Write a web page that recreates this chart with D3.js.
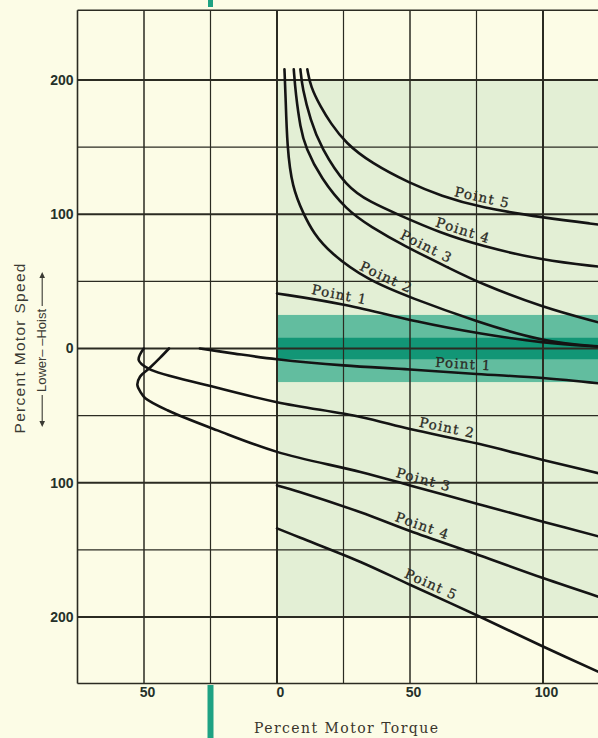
<!DOCTYPE html>
<html>
<head>
<meta charset="utf-8">
<script src="https://cdn.jsdelivr.net/npm/d3@7"></script>
<style>
  html, body { margin: 0; padding: 0; background: #fcfce6; }
  svg { display: block; }
</style>
</head>
<body>
<svg id="chart" width="598" height="738"></svg>
<script>
// ---- axis ticks (percent); negative values are shown as magnitudes ----
const torqueTicks = [-50, 0, 50, 100];
const speedTicks = [200, 100, 0, -100, -200];
const torqueGrid = [-50, -25, 0, 25, 50, 75, 100];
const speedGrid = [200, 150, 100, 50, 0, -50, -100, -150, -200];

// ---- speed-torque curves, [torque %, speed %] ----
// hoisting side (positive speed)
const hoistPoint1 = [[0, 41], [25, 33.5], [54, 19], [76.5, 11], [100, 4], [121, 1.5]];
const hoistPoint2 = [[2.8, 208], [3.2, 190], [3.8, 150], [5.7, 120], [10, 100], [13.7, 86], [20, 71], [34, 51], [50, 38], [75, 20], [100, 5], [121, 1.5]];
const hoistPoint3 = [[6.3, 208], [7, 190], [8.8, 164], [10.7, 150], [16.4, 127], [26.2, 103], [35.2, 90.8], [47.6, 76.6], [65.2, 59.5], [76.5, 48.4], [100, 30.5], [121, 19.4]];
const hoistPoint4 = [[8.8, 208], [9.5, 194], [12.6, 170], [16.4, 150], [26.1, 120], [35.2, 109], [45.2, 100], [61.5, 86], [76.5, 76.6], [100, 65.5], [121, 61]];
const hoistPoint5 = [[11.4, 208], [12.6, 195], [16.4, 180], [20.1, 168], [25.8, 153], [35.2, 138.4], [50.2, 122.8], [61.5, 113.8], [76.5, 104.9], [100, 97.5], [121, 92.3]];
// lowering side (negative speed)
const lowerPoint1 = [[-29, 0], [-16, -3.8], [0, -8], [25, -12.6], [50, -15.6], [75, -19], [100, -22], [121, -26]];
const lowerPoint2 = [[-50.1, 0], [-52, -8.5], [-48.3, -15], [-25, -28], [0, -40], [31.4, -51], [50, -60], [75.8, -71], [100, -83], [121, -93]];
const lowerPoint3 = [[-40.6, 0], [-44, -7], [-47.6, -14], [-51.5, -21], [-52.5, -27], [-51.3, -32.5], [-49.5, -37], [-41.2, -46], [-22.4, -61], [0, -77], [31.4, -92], [50, -102], [75.8, -116], [100, -129], [121, -140]];
const lowerPoint4 = [[0, -102], [8.8, -107], [31.4, -122], [50, -136], [76, -154], [100, -171], [121, -185]];
const lowerPoint5 = [[0, -134], [8.8, -141], [31.4, -159], [50, -176], [76.5, -200], [100, -222], [121, -241]];

const curveNames = ["Point 1", "Point 2", "Point 3", "Point 4", "Point 5"];
const hoistCurves = [hoistPoint1, hoistPoint2, hoistPoint3, hoistPoint4, hoistPoint5];
const lowerCurves = [lowerPoint1, lowerPoint2, lowerPoint3, lowerPoint4, lowerPoint5];
// torque at which each curve's name is written
const hoistLabelTorque = [23, 39.7, 54.7, 69, 76.5];
const lowerLabelTorque = [70, 63.3, 54.3, 53.6, 56.6];

// operating zones
const normalZone = [200, -200];   // speed range of the shaded block
const outerBand = [25, -25];
const innerBand = [8, -8];
const markTorque = -25;

// ---- scales ----
const svg = d3.select("#chart");
const x = d3.scaleLinear().domain([-50, 100]).range([144, 543]);
const y = d3.scaleLinear().domain([200, -200]).range([80, 617]);
const X0 = x(-75), X1 = x(121), Ytop = y(252), Ybot = y(-249.5);

// background zones
svg.append("rect").attr("x", x(0)).attr("y", y(normalZone[0]))
  .attr("width", X1 - x(0)).attr("height", y(normalZone[1]) - y(normalZone[0]))
  .attr("fill", "#e3efd5");
svg.append("rect").attr("x", x(0)).attr("y", y(outerBand[0]))
  .attr("width", X1 - x(0)).attr("height", y(outerBand[1]) - y(outerBand[0]))
  .attr("fill", "#62bd9f");
svg.append("rect").attr("x", x(0)).attr("y", y(innerBand[0]))
  .attr("width", X1 - x(0)).attr("height", y(innerBand[1]) - y(innerBand[0]))
  .attr("fill", "#129676");

// grid
const grid = svg.append("g").attr("stroke", "#2b2b22").attr("fill", "none");
grid.selectAll("line.v").data(torqueGrid).join("line")
  .attr("x1", d => x(d)).attr("x2", d => x(d)).attr("y1", Ytop).attr("y2", Ybot)
  .attr("stroke-width", d => (d === 0 || d === 100) ? 2 : (d % 50 === 0 ? 1.5 : 1.2));
grid.selectAll("line.h").data(speedGrid).join("line")
  .attr("x1", X0).attr("x2", X1).attr("y1", d => y(d)).attr("y2", d => y(d))
  .attr("stroke-width", d => d % 100 === 0 ? 2.2 : 1.3);
// frame
grid.append("line").attr("x1", X0).attr("x2", X0).attr("y1", Ytop).attr("y2", Ybot).attr("stroke-width", 1.6);
grid.append("line").attr("x1", X0).attr("x2", X1).attr("y1", Ytop).attr("y2", Ytop).attr("stroke-width", 1.6);
grid.append("line").attr("x1", X0).attr("x2", X1).attr("y1", Ybot).attr("y2", Ybot).attr("stroke-width", 1.6);

// curves: smooth B-spline for the hoisting family, Catmull-Rom for the lowering family
const hoistLine = d3.line().x(d => x(d[0])).y(d => y(d[1])).curve(d3.curveBasis);
const lowerLine = d3.line().x(d => x(d[0])).y(d => y(d[1])).curve(d3.curveCatmullRom.alpha(0.5));
const curveG = svg.append("g").attr("fill", "none").attr("stroke", "#141414")
  .attr("stroke-width", 2.6).attr("stroke-linecap", "round").attr("stroke-linejoin", "round");

function labelAlong(pathNode, targetX) {
  const L = pathNode.getTotalLength();
  for (let l = L; l >= 0; l -= 0.5) {
    const p = pathNode.getPointAtLength(l);
    if (p.x <= targetX) {
      const a = pathNode.getPointAtLength(Math.max(0, l - 8));
      const b = pathNode.getPointAtLength(Math.min(L, l + 8));
      return { x: p.x, y: p.y, angle: Math.atan2(b.y - a.y, b.x - a.x) * 180 / Math.PI };
    }
  }
  return { x: targetX, y: 0, angle: 0 };
}

const labelG = svg.append("g")
  .attr("font-family", "'DejaVu Serif', serif").attr("font-size", 13.5)
  .attr("letter-spacing", 1.2).attr("fill", "#2a2a24")
  .attr("stroke", "#2a2a24").attr("stroke-width", 0.3)
  .attr("text-anchor", "middle");

function drawSet(curves, torques, gen) {
  curves.forEach((pts, i) => {
    const path = curveG.append("path").attr("d", gen(pts));
    const pos = labelAlong(path.node(), x(torques[i]));
    labelG.append("text")
      .attr("transform", `translate(${pos.x},${pos.y}) rotate(${pos.angle})`)
      .attr("y", -4.5)
      .text(curveNames[i]);
  });
}
drawSet(hoistCurves, hoistLabelTorque, hoistLine);
drawSet(lowerCurves, lowerLabelTorque, lowerLine);

// axes (labels only)
const tickStyle = g => {
  g.select(".domain").remove();
  g.selectAll("text")
    .attr("font-family", "'Liberation Sans', Arial, sans-serif")
    .attr("font-weight", "bold").attr("font-size", 14).attr("fill", "#25312a");
};
svg.append("g").attr("transform", `translate(${X0},0)`)
  .call(d3.axisLeft(y).tickValues(speedTicks).tickSize(0).tickPadding(4).tickFormat(d => Math.abs(d)))
  .call(tickStyle);
svg.append("g").attr("transform", `translate(0,${Ybot})`)
  .call(d3.axisBottom(x).tickValues(torqueTicks).tickSize(0).tickPadding(4).tickFormat(d => Math.abs(d)))
  .call(tickStyle)
  .call(g => g.selectAll("text").attr("dx", 3));

// axis titles
svg.append("text")
  .attr("x", x(25) + 2.5).attr("y", 733)
  .attr("text-anchor", "middle")
  .attr("font-family", "'DejaVu Serif', serif").attr("font-size", 14)
  .attr("textLength", 184).attr("lengthAdjust", "spacing")
  .attr("fill", "#3a352c")
  .text("Percent Motor Torque");

svg.append("text")
  .attr("transform", `translate(25,${y(0)}) rotate(-90)`)
  .attr("text-anchor", "middle")
  .attr("font-family", "'Liberation Sans', Arial, sans-serif").attr("font-size", 15.5)
  .attr("textLength", 170).attr("lengthAdjust", "spacing")
  .attr("fill", "#3a3a33")
  .text("Percent Motor Speed");

// direction note with arrows
const dir = svg.append("g").attr("transform", `translate(46,${y(0) + 2}) rotate(-90)`);
const dirText = dir.append("text")
  .attr("text-anchor", "middle")
  .attr("font-family", "'Liberation Sans', Arial, sans-serif").attr("font-size", 13)
  .attr("fill", "#3a3a33")
  .text("Lower–  –Hoist");
const w = dirText.node().getComputedTextLength();
const arrowY = -3.8;
[[-w / 2 - 3, -w / 2 - 35], [w / 2 + 3, w / 2 + 37]].forEach(([from, to]) => {
  const s = Math.sign(to - from);
  dir.append("line").attr("x1", from).attr("x2", to - s * 4).attr("y1", arrowY).attr("y2", arrowY)
    .attr("stroke", "#3a3a33").attr("stroke-width", 1.1);
  dir.append("path")
    .attr("d", `M${to},${arrowY} L${to - s * 6},${arrowY - 2.8} L${to - s * 6},${arrowY + 2.8} Z`)
    .attr("fill", "#3a3a33");
});

// teal markers at the -25 % torque position
svg.append("rect").attr("x", x(markTorque) - 2.5).attr("y", 0).attr("width", 5).attr("height", 7).attr("fill", "#1ea283");
svg.append("rect").attr("x", x(markTorque) - 3).attr("y", 685).attr("width", 6).attr("height", 53).attr("fill", "#1ea283");
</script>
</body>
</html>
